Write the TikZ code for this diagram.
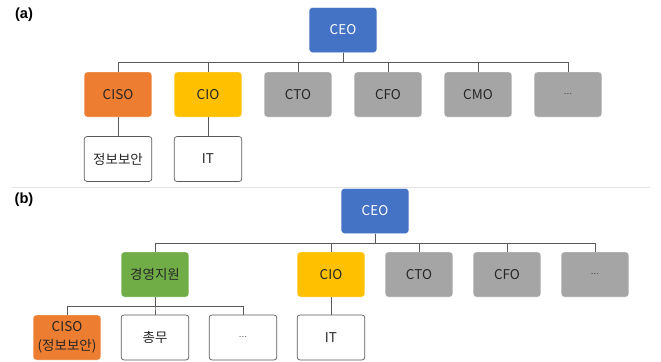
\documentclass[tikz,border=0pt]{standalone}
\usepackage{fontspec}
\setmainfont{Noto Sans CJK KR}
\newfontfamily\tagfont{Liberation Sans}
\usetikzlibrary{positioning}

\definecolor{ceoblue}{HTML}{4472C4}
\definecolor{cisoorange}{HTML}{ED7D31}
\definecolor{ciogold}{HTML}{FFC000}
\definecolor{cxogray}{HTML}{A5A5A5}
\definecolor{supgreen}{HTML}{70AD47}
\definecolor{linkgray}{HTML}{595959}
\definecolor{rulegray}{HTML}{E3E3E3}

\newcommand{\dotsmall}{{\fontsize{6.5}{8}\selectfont …}}

\tikzset{
  unit/.style={rectangle, rounded corners=2.5pt, minimum width=2.03cm, minimum height=1.35cm,
    inner sep=0pt, align=center, text=black!85, font=\fontsize{11.5}{16}\selectfont},
  ceo/.style={unit, fill=ceoblue, draw=white, text=white},
  ciso/.style={unit, fill=cisoorange, draw=white},
  cio/.style={unit, fill=ciogold, draw=white},
  cxo/.style={unit, fill=cxogray, draw=white},
  sup/.style={unit, fill=supgreen, draw=white},
  task/.style={unit, fill=white, draw=linkgray, line width=0.6pt},
  link/.style={draw=linkgray, line width=0.6pt},
  tag/.style={font=\tagfont\bfseries\fontsize{12.5}{14}\selectfont}
}

\begin{document}
\begin{tikzpicture}[x=0.03cm, y=-0.03cm]
\useasboundingbox (0,0) rectangle (661,362);

% (a)
\node[tag] (taga) at (24,15) {(a)};

\node[ceo] (ceoa) at (343,30) {CEO};

\node[ciso] (cisoa) at (118,94.5) {CISO};
\node[cio] (cioa) at (208,94.5) {CIO};
\node[cxo] (ctoa) at (298,94.5) {CTO};
\node[cxo] (cfoa) at (388,94.5) {CFO};
\node[cxo] (cmoa) at (478,94.5) {CMO};
\node[cxo] (etca) at (568,94.5) {\dotsmall};

\node[task] (seca) at (118,159) {정보보안};
\node[task] (ita) at (208,159) {IT};

\foreach \c in {cisoa,cioa,ctoa,cfoa,cmoa,etca}
  \draw[link] (ceoa.south) -- ++(0,10) -| (\c.north);
\draw[link] (cisoa.south) -- (seca.north);
\draw[link] (cioa.south) -- (ita.north);

\coordinate (rulel) at (12,187);
\coordinate (ruler) at (650,187);
\draw[rulegray, line width=0.6pt] (rulel) -- (ruler);

% (b)
\node[tag] (tagb) at (24,200) {(b)};

\node[ceo] (ceob) at (375,211) {CEO};

\node[sup] (supb) at (155,274.5) {경영지원};
\node[cio] (ciob) at (331,274.5) {CIO};
\node[cxo] (ctob) at (419,274.5) {CTO};
\node[cxo] (cfob) at (507,274.5) {CFO};
\node[cxo] (etcb) at (595,274.5) {\dotsmall};

\node[ciso] (cisob) at (67,337.5) {CISO\\(정보보안)};
\node[task] (genb) at (155,337.5) {총무};
\node[task] (moreb) at (243,337.5) {\dotsmall};
\node[task] (itb) at (331,337.5) {IT};

\foreach \c in {supb,ciob,ctob,cfob,etcb}
  \draw[link] (ceob.south) -- ++(0,10) -| (\c.north);
\foreach \c in {cisob,genb,moreb}
  \draw[link] (supb.south) -- ++(0,9) -| (\c.north);
\draw[link] (ciob.south) -- (itb.north);

\end{tikzpicture}
\end{document}
